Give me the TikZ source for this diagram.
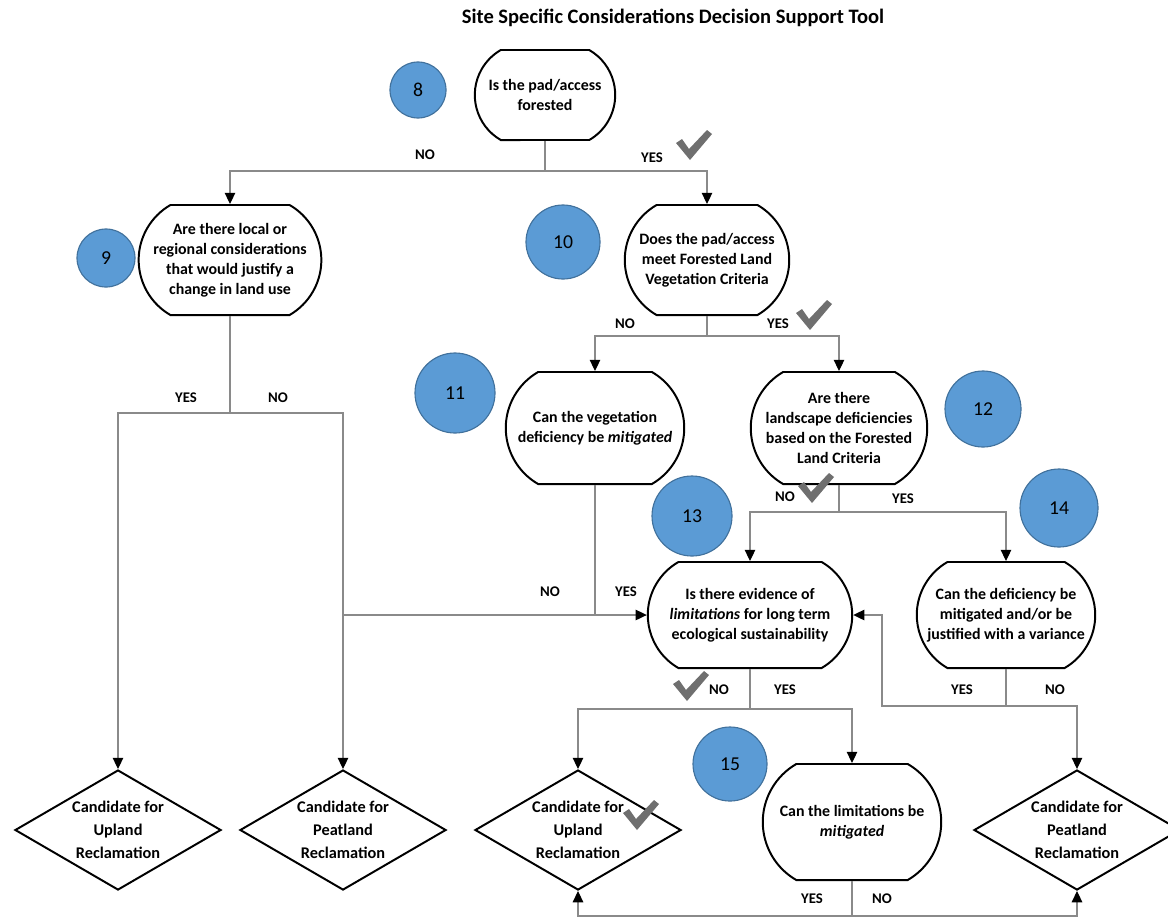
\documentclass[tikz,border=0pt]{standalone}
\usepackage{fontspec}
\setmainfont{Carlito}
\usepackage{tikz}
\usetikzlibrary{shapes.misc,shapes.geometric,arrows.meta}
\definecolor{stepblue}{HTML}{5B9BD5}
\definecolor{stepedge}{HTML}{41719C}
\definecolor{wiregray}{HTML}{8A8A8A}
\definecolor{tickgray}{HTML}{6F6F6F}
\newcommand{\tickmark}[1]{\fill[tickgray] (#1) ++(-17,-4) -- ++(6,-4) -- ++(7,10) -- ++(18,-19) -- ++(5,4) -- ++(-22,26) -- cycle;}

\begin{document}
\begin{tikzpicture}[x=0.025cm,y=-0.025cm,
    question/.style={rounded rectangle, rounded rectangle arc length=120, draw, line width=1.4pt, fill=white, align=center, inner sep=2pt, font=\bfseries\fontsize{11.3}{14.2}\selectfont},
    outcome/.style={diamond, aspect=1.75, draw, line width=1.4pt, fill=white, align=center, inner sep=0pt, minimum width=5.15cm, minimum height=3cm, font=\bfseries\fontsize{11.6}{16.3}\selectfont},
    stepnum/.style={circle, fill=stepblue, draw=stepedge, line width=0.8pt, inner sep=0pt, font=\fontsize{14}{16}\selectfont},
    answer/.style={font=\bfseries\fontsize{10.5}{12}\selectfont},
    wire/.style={draw=wiregray, line width=0.8pt},
    arrow/.style={wire, -{Triangle[length=8pt,width=7.5pt,color=black]}}]
    \useasboundingbox (0,0) rectangle (1168,922);
    \node[font=\bfseries\fontsize{14.6}{16}\selectfont] (title) at (673,18) {Site Specific Considerations Decision Support Tool};

    % questions
    \node[question, minimum width=3.65cm, minimum height=2.25cm] (q8) at (545,95) {Is the pad/access\\forested};
    \node[question, minimum width=4cm, minimum height=2.75cm] (q9) at (230,260) {Are there local or\\regional considerations\\that would justify a\\change in land use};
    \node[question, minimum width=4.25cm, minimum height=2.75cm] (q10) at (707,260) {Does the pad/access\\meet Forested Land\\Vegetation Criteria};
    \node[question, minimum width=4.6cm, minimum height=2.8cm] (q11) at (595,428) {Can the vegetation\\deficiency be \textit{mitigated}};
    \node[question, minimum width=4.55cm, minimum height=2.8cm] (q12) at (839,428) {Are there\\landscape deficiencies\\based on the Forested\\Land Criteria};
    \node[question, minimum width=5.25cm, minimum height=2.65cm] (q13) at (750,615) {Is there evidence of\\\textit{limitations} for long term\\ecological sustainability};
    \node[question, minimum width=4.6cm, minimum height=2.65cm] (q14) at (1006,615) {Can the deficiency be\\mitigated and/or be\\justified with a variance};
    \node[question, minimum width=4.6cm, minimum height=2.9cm] (q15) at (852,822) {Can the limitations be\\\textit{mitigated}};

    % outcomes
    \node[outcome] (up9) at (118,830) {Candidate for\\Upland\\Reclamation};
    \node[outcome] (peat9) at (343,830) {Candidate for\\Peatland\\Reclamation};
    \node[outcome] (up13) at (578,830) {Candidate for\\Upland\\Reclamation};
    \node[outcome] (peat14) at (1077,830) {Candidate for\\Peatland\\Reclamation};

    % step numbers
    \node[stepnum, minimum size=1.4cm] (n8) at (418,90) {8};
    \node[stepnum, minimum size=1.45cm] (n9) at (106,258) {9};
    \node[stepnum, minimum size=1.85cm] (n10) at (563,242) {10};
    \node[stepnum, minimum size=2cm] (n11) at (455,393) {11};
    \node[stepnum, minimum size=1.9cm] (n12) at (983,409) {12};
    \node[stepnum, minimum size=2cm] (n13) at (692,516) {13};
    \node[stepnum, minimum size=1.95cm] (n14) at (1059,508) {14};
    \node[stepnum, minimum size=1.85cm] (n15) at (730,764) {15};

    % connectors
    \draw[wire] (q8.south) -- ++(0,30) coordinate (j8);
    \draw[arrow] (j8) -| (q9.north);
    \draw[arrow] (j8) -| (q10.north);
    \draw[wire] (q9.south) -- ++(0,97) coordinate (j9);
    \draw[arrow] (j9) -| (up9.north);
    \draw[arrow] (j9) -| (peat9.north);
    \draw[wire] (q10.south) -- ++(0,20) coordinate (j10);
    \draw[arrow] (j10) -| (q11.north);
    \draw[arrow] (j10) -| (q12.north);
    \draw[wire] (q11.south) -- (q11.south |- q13.west);
    \draw[arrow] (peat9.north |- q13.west) -- (q13.west);
    \draw[wire] (q12.south) -- ++(0,27) coordinate (j12);
    \draw[arrow] (j12) -| (q13.north);
    \draw[arrow] (j12) -| (q14.north);
    \draw[wire] (q13.south) -- ++(0,40) coordinate (j13);
    \draw[arrow] (j13) -| (up13.north);
    \draw[arrow] (j13) -| (q15.north);
    \draw[wire] (q14.south) -- ++(0,37) coordinate (j14);
    \draw[arrow] (j14) -| (peat14.north);
    \draw[arrow] (j14) -- ++(-124,0) |- (q13.east);
    \draw[wire] (q15.south) -- ++(0,35) coordinate (j15);
    \draw[arrow] (j15) -| (up13.south);
    \draw[arrow] (j15) -| (peat14.south);

    % answers
    \node[answer] (a8n) at (425,155) {NO};
    \node[answer] (a8y) at (652,158) {YES};
    \node[answer] (a9y) at (186,398) {YES};
    \node[answer] (a9n) at (278,398) {NO};
    \node[answer] (a10n) at (625,324) {NO};
    \node[answer] (a10y) at (778,324) {YES};
    \node[answer] (a11n) at (550,592) {NO};
    \node[answer] (a11y) at (626,592) {YES};
    \node[answer] (a12n) at (785,497) {NO};
    \node[answer] (a12y) at (903,499) {YES};
    \node[answer] (a13n) at (719,690) {NO};
    \node[answer] (a13y) at (785,690) {YES};
    \node[answer] (a14y) at (962,690) {YES};
    \node[answer] (a14n) at (1055,690) {NO};
    \node[answer] (a15y) at (812,899) {YES};
    \node[answer] (a15n) at (882,899) {NO};

    % ticks
    \tickmark{693,147}
    \tickmark{813,317}
    \tickmark{815,490}
    \tickmark{690,688}
    \tickmark{640,817}
\end{tikzpicture}
\end{document}
